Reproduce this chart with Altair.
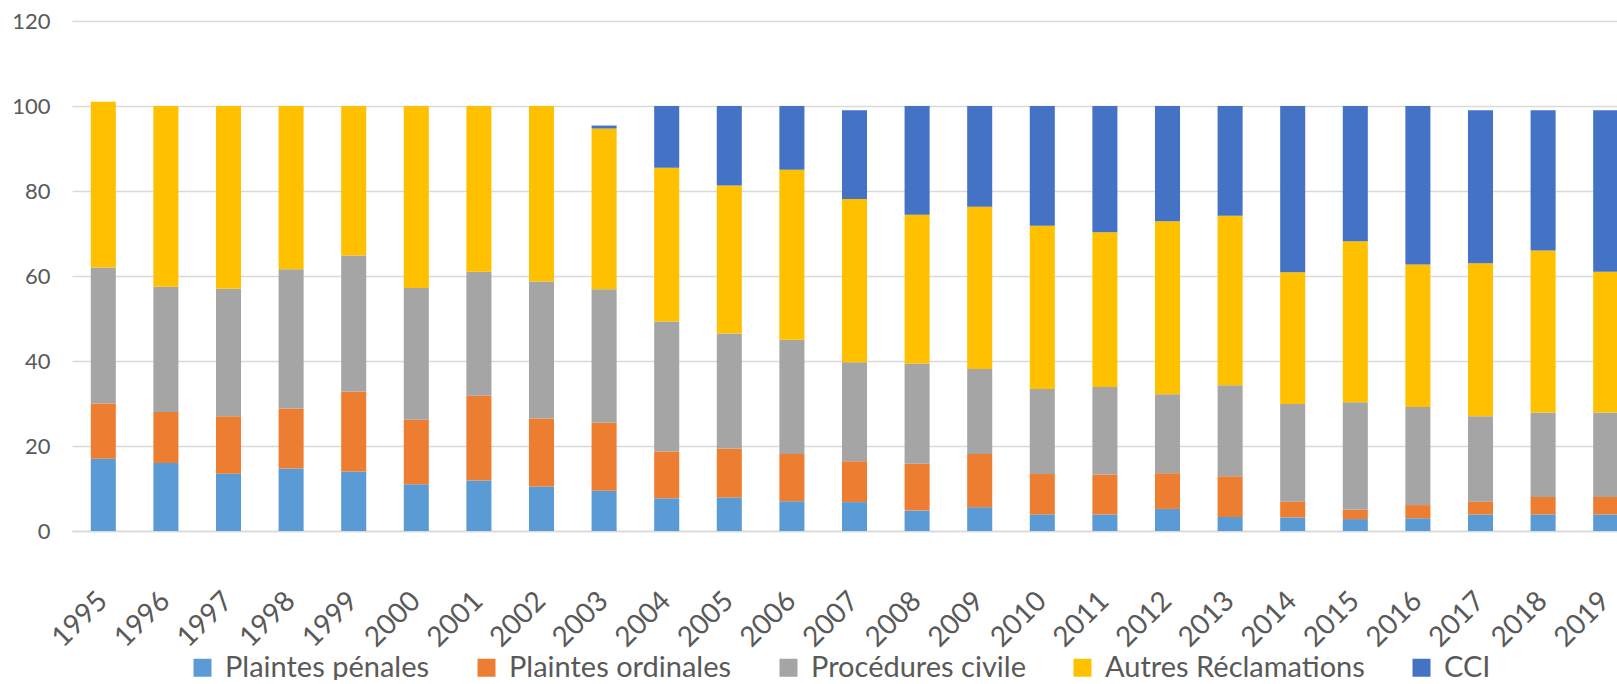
import altair as alt
import pandas as pd

years = [str(y) for y in range(1995, 2020)]
series = ["Plaintes pénales", "Plaintes ordinales", "Procédures civile", "Autres Réclamations", "CCI"]
colors = ["#5B9BD5", "#ED7D31", "#A5A5A5", "#FFC000", "#4472C4"]

penales = [17.0, 16.0, 13.5, 14.7, 14.0, 11.0, 11.9, 10.5, 9.5, 7.7, 7.9, 7.0, 6.8, 4.8, 5.6, 3.9, 3.9, 5.2, 3.3, 3.2, 2.8, 3.0, 3.9, 3.9, 3.9]
ordinales = [13.0, 12.0, 13.5, 14.1, 18.8, 15.2, 19.9, 16.0, 16.0, 11.0, 11.5, 11.1, 9.6, 11.0, 12.5, 9.5, 9.4, 8.4, 9.6, 3.7, 2.2, 3.1, 3.0, 4.1, 4.1]
civile = [32.0, 29.5, 30.0, 32.8, 32.0, 31.0, 29.2, 32.2, 31.4, 30.6, 27.1, 26.9, 23.3, 23.6, 20.0, 20.0, 20.6, 18.6, 21.4, 23.0, 25.3, 23.1, 20.1, 19.9, 19.9]
autres = [39.0, 42.5, 43.0, 38.4, 35.2, 42.8, 39.0, 41.3, 37.8, 36.2, 34.8, 40.0, 38.4, 35.0, 38.2, 38.4, 36.4, 40.7, 39.9, 31.0, 37.9, 33.5, 36.0, 38.1, 33.1]
cci = [0.0, 0.0, 0.0, 0.0, 0.0, 0.0, 0.0, 0.0, 0.7, 14.5, 18.7, 15.0, 20.9, 25.6, 23.7, 28.2, 29.7, 27.1, 25.8, 39.1, 31.8, 37.3, 36.0, 33.0, 38.0]

rows = []
for si, (name, vals) in enumerate(zip(series, [penales, ordinales, civile, autres, cci])):
    for y, v in zip(years, vals):
        rows.append({"annee": y, "serie": name, "valeur": v, "ordre": si})
df = pd.DataFrame(rows)
labels_df = pd.DataFrame({"annee": years})

FONT = "Lato"
GREY = "#595959"

xscale = alt.Scale(domain=years, range=[0, 1565], paddingInner=0.6, paddingOuter=0.3)

bars = alt.Chart(df).mark_bar().encode(
    x=alt.X("annee:N", sort=years, title=None, scale=xscale,
            axis=alt.Axis(labels=False, ticks=False, domainColor="#D9D9D9", domainWidth=1.5, grid=False)),
    y=alt.Y("valeur:Q", stack="zero", title=None,
            scale=alt.Scale(domain=[0, 120], nice=False),
            axis=alt.Axis(values=[0, 20, 40, 60, 80, 100, 120], ticks=False, domain=False,
                          gridColor="#D9D9D9", gridWidth=1.5, labelPadding=22,
                          labelFont=FONT, labelFontSize=22, labelColor=GREY)),
    color=alt.Color("serie:N", sort=series, title=None,
                    scale=alt.Scale(domain=series, range=colors),
                    legend=alt.Legend(orient="none", legendX=116, legendY=632, direction="horizontal",
                                      symbolType="square", symbolSize=324, symbolStrokeWidth=0,
                                      labelFont=FONT, labelFontSize=29, labelColor=GREY, labelLimit=0,
                                      labelOffset=8, columnPadding=42, padding=0)),
    order=alt.Order("ordre:Q", sort="ascending"),
)

xlabels = alt.Chart(labels_df).mark_text(
    angle=315, align="right", baseline="middle",
    font=FONT, fontSize=28, color=GREY,
).encode(
    x=alt.X("annee:N", sort=years, scale=xscale, title=None),
    y=alt.value(576),
    text="annee:N",
)

chart = alt.layer(bars, xlabels).properties(
    width=1545, height=510,
    autosize=alt.AutoSizeParams(type="none"),
    padding={"left": 72, "top": 21, "right": 0, "bottom": 149},
).configure_view(stroke=None)

chart.save("out.html", embed_options={"renderer": "svg", "actions": False})
